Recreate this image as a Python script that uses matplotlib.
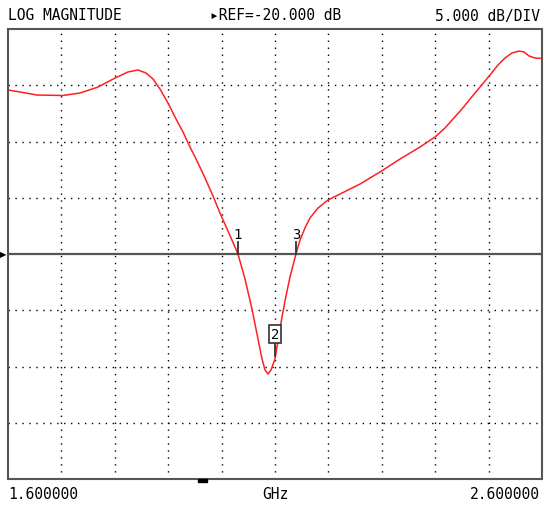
import matplotlib
matplotlib.use("Agg")
import matplotlib.pyplot as plt

# Sweep settings
f_start, f_stop = 1.6, 2.6          # GHz
ref_level, db_per_div = -20.0, 5.0  # dB
n_xdiv, n_ydiv = 10, 8

# Measured trace: frequency (GHz) and magnitude (dB)
freq_ghz = [1.6, 1.6225, 1.6543, 1.703, 1.7348, 1.7685, 1.8004, 1.8247, 1.8434,
            1.8584, 1.8715, 1.8846, 1.8996, 1.9127, 1.9277, 1.9408, 1.9558,
            1.9689, 1.9839, 1.997, 2.012, 2.0307, 2.0438, 2.0569, 2.0682,
            2.0757, 2.0813, 2.0869, 2.0925, 2.1, 2.1056, 2.1131, 2.1206,
            2.1281, 2.1393, 2.1468, 2.1561, 2.1655, 2.1805, 2.1993, 2.2217,
            2.2592, 2.2966, 2.3341, 2.3715, 2.3996, 2.4183, 2.4333, 2.4502,
            2.4652, 2.4839, 2.5026, 2.5176, 2.5307, 2.5438, 2.5569, 2.5663,
            2.5757, 2.5869, 2.6]
mag_db = [-5.42, -5.60, -5.87, -5.91, -5.69, -5.16, -4.36, -3.82, -3.64,
          -3.91, -4.44, -5.33, -6.58, -7.82, -9.16, -10.49, -11.91,
          -13.24, -14.84, -16.36, -17.96, -20.0, -22.22, -24.89, -27.56,
          -29.33, -30.31, -30.67, -30.31, -29.33, -27.73, -25.60, -23.73,
          -22.04, -20.0, -18.76, -17.69, -16.80, -15.91, -15.20, -14.67,
          -13.78, -12.71, -11.56, -10.49, -9.60, -8.80, -8.0, -7.11,
          -6.22, -5.16, -4.09, -3.20, -2.58, -2.13, -1.96, -2.04,
          -2.40, -2.58, -2.62]

# Markers: label, frequency, level, boxed (active marker)
marker_labels = ["1", "2", "3"]
marker_freq = [2.0307, 2.1, 2.1393]
marker_db = [-20.0, -29.33, -20.0]
marker_boxed = [False, True, False]

header_left = "LOG MAGNITUDE"
header_mid = "\u25B8REF=-20.000 dB"
header_right = "5.000 dB/DIV"
footer_left = "1.600000"
footer_mid = "GHz"
footer_right = "2.600000"

W, H = 544, 506
fig = plt.figure(figsize=(W / 100, H / 100), dpi=100)
fig.patch.set_facecolor("white")
ax = fig.add_axes([8 / W, 26 / H, 534 / W, 450 / H])

top = ref_level + db_per_div * n_ydiv / 2
bot = ref_level - db_per_div * n_ydiv / 2
ax.set_xlim(f_start, f_stop)
ax.set_ylim(bot, top)

# dotted graticule
dx = (f_stop - f_start) / n_xdiv
for i in range(1, n_xdiv):
    ax.axvline(f_start + i * dx, color="black", lw=1.0, ls=(0, (1, 4)))
for j in range(1, n_ydiv):
    y = bot + j * db_per_div
    if abs(y - ref_level) > 1e-9:
        ax.axhline(y, color="black", lw=1.0, ls=(0, (1, 4)))

# reference line
ax.axhline(ref_level, color="#555555", lw=1.6)

# trace
ax.plot(freq_ghz, mag_db, color="#ff2020", lw=1.1,
        solid_joinstyle="round", solid_capstyle="round")

# markers
ypx = (top - bot) / 450.0  # dB per pixel
for lab, fm, dm, boxed in zip(marker_labels, marker_freq, marker_db, marker_boxed):
    if boxed:
        y0 = dm + 3 * ypx
        ax.plot([fm, fm], [y0, y0 + 14 * ypx], color="#333333", lw=1.3)
        ax.text(fm, dm + 25 * ypx, lab, ha="center", va="center",
                fontsize=10, family="DejaVu Sans Mono", color="black",
                bbox=dict(boxstyle="square,pad=0.15", fc="white", ec="#333333", lw=1.2))
    else:
        ax.plot([fm, fm], [dm, dm + 12 * ypx], color="#333333", lw=1.3)
        ax.text(fm, dm + 20 * ypx, lab, ha="center", va="center",
                fontsize=10, family="DejaVu Sans Mono", color="black")

for s in ax.spines.values():
    s.set_color("#555555")
    s.set_linewidth(1.5)
ax.set_xticks([])
ax.set_yticks([])

# reference pointer at left edge and stimulus bar at bottom
fig.text(0 / W, 1 - 255 / H, "\u25B6", fontsize=6, va="center", ha="left",
         family="DejaVu Sans", color="black")
fig.add_artist(plt.Rectangle((198 / W, 1 - 483 / H), 9 / W, 3 / H,
                             transform=fig.transFigure, color="black"))

mono = dict(family="DejaVu Sans Mono", fontsize=10.5, color="black")
fig.text(8 / W, 1 - 16 / H, header_left, ha="left", va="center", **mono)
fig.text(210 / W, 1 - 16 / H, header_mid, ha="left", va="center", **mono)
fig.text(540 / W, 1 - 16 / H, header_right, ha="right", va="center", **mono)
fig.text(8 / W, 1 - 495 / H, footer_left, ha="left", va="center", **mono)
fig.text(275 / W, 1 - 495 / H, footer_mid, ha="center", va="center", **mono)
fig.text(540 / W, 1 - 495 / H, footer_right, ha="right", va="center", **mono)

fig.savefig("out.png", dpi=100)
